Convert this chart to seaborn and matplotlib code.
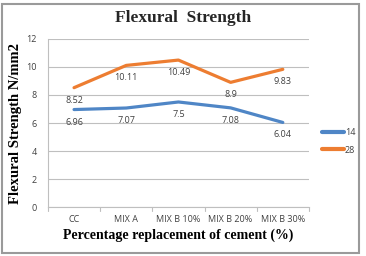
import matplotlib
matplotlib.use("Agg")
import matplotlib.pyplot as plt
import seaborn as sns
import pandas as pd
from matplotlib.patches import Rectangle

categories = ["CC", "MIX A", "MIX B 10%", "MIX B 20%", "MIX B 30%"]
series_14 = [6.96, 7.07, 7.5, 7.08, 6.04]
series_28 = [8.52, 10.11, 10.49, 8.9, 9.83]
yticks = [0, 2, 4, 6, 8, 10, 12]

sns.set_theme(style="white")
plt.rcParams['font.family'] = ['Open Sans', 'DejaVu Sans']

df = pd.DataFrame({
    "cat": categories * 2,
    "x": list(range(len(categories))) * 2,
    "val": series_14 + series_28,
    "series": ["14"] * len(categories) + ["28"] * len(categories),
})

fig = plt.figure(figsize=(3.66, 2.56), dpi=100)
ax = fig.add_axes([0.131, 0.191, 0.713, 0.657])

palette = {"14": "#4F86C6", "28": "#ED7D31"}
sns.lineplot(data=df, x="x", y="val", hue="series", palette=palette,
             linewidth=2.3, ax=ax, legend=True)

for s, vals in (("14", series_14), ("28", series_28)):
    for i, v in enumerate(vals):
        ax.annotate(f"{v:g}", (i, v), xytext=(0, -9), textcoords="offset points",
                    ha="center", va="center", fontsize=6.5, color="#404040")

ax.set_xlim(-0.5, len(categories) - 0.5)
ax.set_ylim(0, 12)
ax.set_yticks(yticks)
ax.set_yticklabels([str(t) for t in yticks], fontsize=6.5, color="#404040")
ax.set_xticks(range(len(categories)))
ax.set_xticklabels(categories, fontsize=6.5, color="#404040")
ax.tick_params(axis="both", length=0, pad=6)
ax.tick_params(axis="y", pad=8)
ax.yaxis.grid(True, color="#BFBFBF", linewidth=0.8)
ax.xaxis.grid(False)
for sp in ("top", "right"):
    ax.spines[sp].set_visible(False)
for sp in ("left", "bottom"):
    ax.spines[sp].set_color("#BFBFBF")
    ax.spines[sp].set_linewidth(0.8)
# category boundary tick marks
for b in [i - 0.5 for i in range(len(categories) + 1)]:
    ax.plot([b, b], [0, -0.25], color="#BFBFBF", linewidth=0.8, clip_on=False)

ax.set_xlabel("Percentage replacement of cement (%)", family="Liberation Serif",
              fontweight="bold", fontsize=10, labelpad=3, color="black")
ax.set_ylabel("Flexural Strength N/mm2", family="Liberation Serif",
              fontweight="bold", fontsize=10.5, labelpad=3, color="black")
fig.text(0.5, 0.93, "Flexural  Strength", family="Liberation Serif",
         fontweight="bold", fontsize=12.5, ha="center", va="center")

leg = ax.legend(loc="center left", bbox_to_anchor=(1.02, 0.39), frameon=False,
                fontsize=6.5, handlelength=2.4, handletextpad=0.1, labelspacing=0.9)
for t in leg.get_texts():
    t.set_color("#404040")
for h in leg.get_lines():
    h.set_linewidth(3)

fig.patches.append(Rectangle((0.006, 0.01), 0.975, 0.975, transform=fig.transFigure,
                             fill=False, edgecolor="#9A9A9A", linewidth=1.5))

fig.savefig("out.png", dpi=100)
